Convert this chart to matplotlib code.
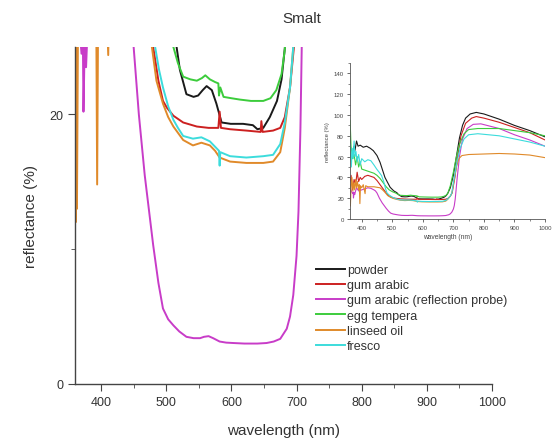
import matplotlib
matplotlib.use("Agg")
import matplotlib.pyplot as plt
from matplotlib.ticker import MultipleLocator

plt.rcParams['font.family'] = ['Liberation Sans', 'DejaVu Sans']

# wavelength (nm) / reflectance (%)
powder_wl = [370, 375, 378, 383, 388, 395, 405, 416, 428, 438, 450, 460, 476, 493, 505, 515,
             521, 531, 542, 549, 556, 562, 570, 577, 585, 599, 618, 633, 640, 649, 659, 670,
             677, 682, 690, 700, 710, 720, 730, 740, 755, 775, 800, 850, 900, 950, 1000]
powder_r = [62, 70, 66, 75, 70, 71, 69, 70, 68, 65.7, 61, 54.5, 40, 30.5, 27, 25.3,
            23.3, 21.5, 21.3, 21.4, 21.8, 22.1, 21.8, 20.8, 19.4, 19.3, 19.3, 19.2, 18.9, 19.0, 19.8, 21.0,
            22.6, 24.9, 30, 42, 60, 78, 90, 97, 101, 102.5, 101, 96, 90, 85, 79]

gum_wl = [360, 365, 370, 375, 380, 385, 390, 395, 400, 410, 420, 430, 440, 450, 460, 470,
          480, 488, 495, 501, 511, 526, 547, 565, 580, 582, 584, 598, 623, 645, 646, 648,
          664, 675, 682, 690, 696, 705, 715, 725, 740, 760, 775, 800, 850, 900, 950, 1000]
gum_r = [30, 42, 28, 38, 33, 45, 36, 40, 38, 41, 42, 41, 40, 37, 33, 29,
         25, 22.5, 21.0, 20.5, 19.9, 19.4, 19.1, 19.0, 19.0, 20.2, 19.0, 18.9, 18.8, 18.7, 19.5, 18.7,
         18.8, 19.0, 19.8, 22, 25, 40, 62, 80, 92, 97, 98.5, 97, 93, 88, 83, 76]

probe_wl = [360, 366, 370, 372, 373, 375, 377, 379, 383, 390, 400, 410, 420, 430, 440, 445,
            450, 458, 467, 480, 488, 495, 503, 511, 520, 531, 542, 552, 558, 565, 572, 582,
            592, 603, 620, 640, 654, 665, 675, 685, 690, 695, 700, 703, 706, 708, 712, 720,
            730, 745, 765, 790, 850, 900, 950, 1000]
probe_r = [32, 27, 24.5, 26, 20.2, 25.5, 23.5, 26, 30, 27, 28, 29, 30, 29.5, 28, 27,
           25, 20, 15.5, 10.3, 7.5, 5.6, 4.8, 4.35, 3.9, 3.5, 3.4, 3.4, 3.5, 3.55, 3.4, 3.15,
           3.07, 3.04, 3.0, 3.0, 3.04, 3.15, 3.35, 4.1, 5.0, 6.6, 9.5, 12.8, 19, 25, 38, 60,
           77, 87, 91, 91.5, 87, 81, 76, 70]

egg_wl = [360, 362, 365, 370, 375, 380, 385, 390, 395, 400, 410, 420, 430, 440, 450, 460,
          470, 480, 490, 500, 511, 518, 526, 537, 547, 555, 560, 567, 575, 580, 581, 583,
          588, 600, 613, 630, 649, 660, 669, 677, 682, 690, 700, 710, 720, 735, 750, 780,
          850, 900, 950, 1000]
egg_r = [60, 95, 70, 58, 62, 52, 60, 50, 55, 48, 47, 46, 45, 44, 42, 39,
         35, 31, 28, 26.3, 25, 23.8, 22.8, 22.6, 22.5, 22.7, 22.9, 22.6, 22.4, 22.3, 21.4, 22.0,
         21.3, 21.2, 21.1, 21.0, 21.0, 21.2, 21.8, 23.0, 24.8, 32, 45, 60, 72, 82, 86, 87,
         87, 85, 83, 80]

oil_wl = [360, 361, 362, 363, 365, 368, 371, 374, 377, 380, 383, 386, 390, 392, 394, 396,
          400, 405, 411, 413, 420, 430, 440, 450, 460, 470, 478, 485, 495, 503, 511, 526,
          541, 554, 567, 575, 582, 598, 623, 649, 664, 675, 682, 690, 695, 702, 710, 718,
          728, 750, 800, 850, 900, 950, 1000]
oil_r = [28, 12, 33, 13, 30, 40, 27, 35, 28, 38, 30, 36, 28, 33, 14.8, 32,
         30, 33, 24.4, 32, 31, 31, 31, 30.5, 30, 27.5, 25, 22.5, 20.8, 19.8, 19.1, 18.1,
         17.7, 17.9, 17.7, 17.3, 16.8, 16.5, 16.4, 16.4, 16.5, 17.2, 19, 22, 25, 37, 50, 58,
         61, 62, 62.5, 63, 62.5, 61.5, 59]

fresco_wl = [360, 363, 366, 369, 372, 375, 378, 381, 385, 390, 395, 400, 410, 420, 430, 440,
             449, 457, 465, 472, 478, 483, 489, 495, 503, 511, 518, 526, 541, 554, 567, 575,
             581, 582, 583, 598, 623, 649, 664, 675, 682, 690, 695, 702, 712, 722, 735, 750,
             780, 850, 900, 950, 1000]
fresco_r = [55, 72, 50, 68, 58, 75, 60, 65, 55, 62, 52, 58, 55, 57, 56, 52,
            48, 45, 41.7, 36, 29, 25, 23.3, 22, 20.6, 19.6, 19.0, 18.4, 18.2, 18.3, 18.0, 17.6,
            17.3, 16.2, 17.2, 16.9, 16.8, 16.9, 17.0, 17.8, 19.4, 22, 25, 38, 55, 68, 77, 81,
            82, 80, 77, 74, 70]

labels = ["powder", "gum arabic", "gum arabic (reflection probe)", "egg tempera", "linseed oil", "fresco"]
colors = ["#1a1a1a", "#cc2020", "#c83cc8", "#3ccc3c", "#e08a2a", "#3cdcdc"]
series = [(powder_wl, powder_r), (gum_wl, gum_r), (probe_wl, probe_r),
          (egg_wl, egg_r), (oil_wl, oil_r), (fresco_wl, fresco_r)]

fig = plt.figure(figsize=(5.52, 4.39), dpi=100)
ax = fig.add_axes([75 / 552, 54 / 439, 417 / 552, 337 / 439])

for (wl, r), c, lab in zip(series, colors, labels):
    ax.plot(wl, r, color=c, lw=1.4, label=lab)

ax.set_xlim(360, 1000)
ax.set_ylim(0, 25)
ax.xaxis.set_major_locator(MultipleLocator(100))
ax.xaxis.set_minor_locator(MultipleLocator(50))
ax.yaxis.set_major_locator(MultipleLocator(20))
ax.yaxis.set_minor_locator(MultipleLocator(10))
for s in ["top", "right"]:
    ax.spines[s].set_visible(False)
for s in ["left", "bottom"]:
    ax.spines[s].set_color("#444444")
    ax.spines[s].set_linewidth(1.0)
ax.tick_params(which="major", length=5, color="#444444", labelsize=9, labelcolor="#333333")
ax.tick_params(which="minor", length=3, color="#444444")
ax.set_xlabel("wavelength (nm)", fontsize=11, color="#333333", labelpad=11)
ax.set_ylabel("reflectance (%)", fontsize=11, color="#333333", labelpad=8)

fig.text(302 / 552, 1 - 19 / 439, "Smalt", ha="center", va="center", fontsize=11, color="#333333")

fig.legend(loc="upper left", bbox_to_anchor=(316 / 552, 1 - 265 / 439), frameon=False,
           fontsize=9, handlelength=2.3, handletextpad=0.2, labelspacing=0.26,
           borderpad=0, borderaxespad=0, labelcolor="#333333")

# inset with the full range
ins = fig.add_axes([349.5 / 552, (439 - 220) / 439, 195.5 / 552, 156 / 439])
for (wl, r), c in zip(series, colors):
    ins.plot(wl, r, color=c, lw=0.8)
ins.set_xlim(360, 1000)
ins.set_ylim(0, 150)
ins.xaxis.set_major_locator(MultipleLocator(100))
ins.xaxis.set_minor_locator(MultipleLocator(50))
ins.yaxis.set_major_locator(MultipleLocator(20))
ins.yaxis.set_minor_locator(MultipleLocator(10))
for s in ["top", "right"]:
    ins.spines[s].set_visible(False)
for s in ["left", "bottom"]:
    ins.spines[s].set_color("#555555")
    ins.spines[s].set_linewidth(0.6)
ins.tick_params(which="major", length=2.5, width=0.6, color="#555555", labelsize=4.3, labelcolor="#444444", pad=1.5)
ins.tick_params(which="minor", length=1.5, width=0.5, color="#555555")
ins.set_xlabel("wavelength (nm)", fontsize=4.8, color="#444444", labelpad=2.5)
ins.set_ylabel("reflectance (%)", fontsize=4.2, color="#444444", labelpad=3)

fig.savefig("out.png", dpi=100, facecolor="white")
